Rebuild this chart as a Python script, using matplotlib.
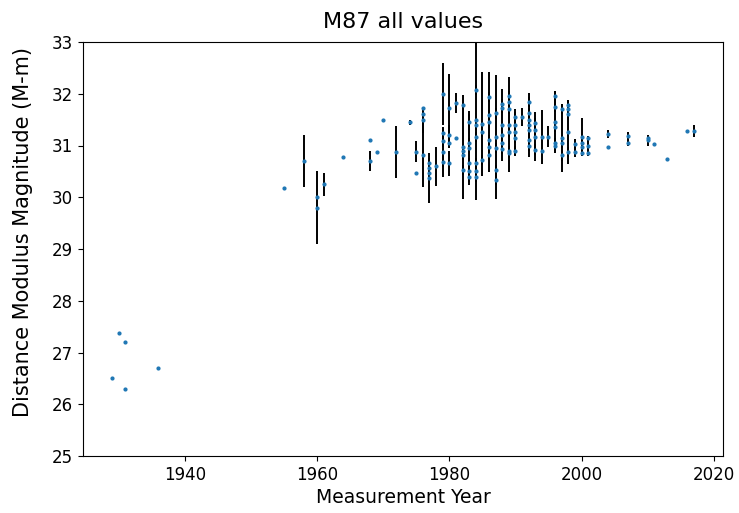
import matplotlib
matplotlib.use("Agg")
import matplotlib.pyplot as plt

plt.rcParams['font.size'] = 12

# Measurement year, distance modulus (M-m), and its uncertainty (0 = none)
years = [
    1929, 1930, 1931, 1931, 1936,
    1955, 1958, 1960, 1960, 1961, 1964, 1968, 1968, 1969, 1970, 1972,
    1974, 1975, 1975,
    1976, 1976, 1976, 1976,
    1977, 1977, 1977, 1977,
    1978,
    1979, 1979, 1979, 1979, 1979,
    1980, 1980, 1980, 1980,
    1981, 1981,
    1982, 1982, 1982, 1982, 1982,
    1983, 1983, 1983, 1983, 1983, 1983,
    1984, 1984, 1984, 1984, 1984, 1984, 1984,
    1985, 1985, 1985,
    1986, 1986, 1986, 1986, 1986, 1986,
    1987, 1987, 1987, 1987, 1987,
    1988, 1988, 1988, 1988, 1988, 1988,
    1989, 1989, 1989, 1989, 1989, 1989, 1989,
    1990, 1990, 1990, 1990, 1990,
    1991,
    1992, 1992, 1992, 1992, 1992, 1992, 1992,
    1993, 1993, 1993, 1993,
    1994, 1994,
    1995,
    1996, 1996, 1996, 1996, 1996, 1996,
    1997, 1997, 1997, 1997,
    1998, 1998, 1998, 1998, 1998,
    1999, 1999,
    2000, 2000, 2000, 2000,
    2001, 2001, 2001,
    2004, 2004,
    2007, 2007,
    2010, 2010,
    2011, 2013, 2016, 2017,
]
modulus = [
    26.5, 27.38, 27.2, 26.3, 26.7,
    30.18, 30.7, 30.0, 29.8, 30.25, 30.78, 31.1, 30.7, 30.88, 31.5, 30.88,
    31.45, 30.88, 30.47,
    30.82, 31.5, 31.72, 31.6,
    30.37, 30.66, 30.56, 30.47,
    30.6,
    32.0, 30.88, 31.24, 31.08, 30.69,
    31.72, 30.66, 31.2, 31.05,
    31.82, 31.14,
    30.97, 31.78, 30.9, 30.82, 30.53,
    30.95, 31.45, 31.04, 30.66, 30.5, 30.4,
    31.5, 32.07, 31.4, 31.17, 30.66, 30.5, 30.4,
    31.42, 31.27, 30.72,
    31.45, 31.94, 31.59, 31.1, 30.98, 30.82,
    31.16, 31.62, 30.95, 30.52, 30.33,
    31.4, 31.8, 31.72, 31.2, 31.04, 30.94,
    31.4, 31.95, 31.85, 31.7, 31.26, 30.9, 30.85,
    31.26, 31.55, 31.4, 31.14, 30.9,
    31.55,
    31.4, 31.84, 31.62, 31.5, 31.3, 31.1, 31.0,
    31.17, 31.43, 31.3, 30.92,
    31.16, 30.9,
    31.17,
    31.45, 31.95, 31.75, 31.36, 31.05, 31.0,
    31.15, 31.7, 31.05, 30.81,
    31.26, 31.78, 31.7, 31.6, 30.87,
    31.02, 30.88,
    31.17, 31.05, 30.98, 30.85,
    31.14, 31.0, 30.85,
    31.22, 30.98,
    31.18, 31.05,
    31.1, 31.15,
    31.03, 30.74, 31.28, 31.28,
]
uncertainty = [
    0, 0, 0, 0, 0,
    0, 0.5, 0, 0.7, 0.22, 0, 0, 0.2, 0, 0, 0.5,
    0.05, 0.2, 0,
    0.63, 0.25, 0, 0,
    0.48, 0.1, 0.1, 0.1,
    0.38,
    0.6, 0.48, 0.1, 0.1, 0.1,
    0.67, 0.24, 0.2, 0.1,
    0.2, 0,
    1.0, 0, 0.1, 0.1, 0.1,
    0.72, 0.15, 0.1, 0.1, 0.1, 0.1,
    1.56, 0.1, 0.1, 0.1, 0.1, 0.1, 0.1,
    1.0, 0.1, 0.1,
    0.97, 0.1, 0.1, 0.1, 0.1, 0.1,
    1.2, 0.1, 0.1, 0.1, 0.1,
    0.7, 0.1, 0.1, 0.1, 0.1, 0.1,
    0.92, 0.1, 0.1, 0.1, 0.1, 0.1, 0.1,
    0.45, 0.1, 0.1, 0.1, 0.1,
    0.18,
    0.62, 0.1, 0.1, 0.1, 0.1, 0.1, 0.1,
    0.47, 0.1, 0.1, 0.1,
    0.52, 0,
    0.2,
    0.6, 0.1, 0.1, 0.1, 0.1, 0.1,
    0.66, 0.1, 0.1, 0.1,
    0.61, 0.1, 0.1, 0.1, 0.1,
    0.1, 0.1,
    0.36, 0.1, 0.1, 0.05,
    0.05, 0.1, 0.05,
    0.07, 0,
    0.08, 0.05,
    0.1, 0,
    0, 0, 0, 0.11,
]

fig = plt.figure(figsize=(7.39, 5.13), dpi=100)
ax = fig.add_axes([83 / 739, 57 / 513, 640 / 739, 414 / 513])

ax.errorbar(years, modulus, yerr=uncertainty, fmt='.', color='tab:blue',
            ecolor='black', elinewidth=1.4, markersize=4, capsize=0)

ax.set_ylim(25, 33)
ax.set_xticks([1940, 1960, 1980, 2000, 2020])
ax.tick_params(labelsize=12)
ax.set_title("M87 all values", fontsize=16, pad=10)
ax.set_xlabel("Measurement Year", fontsize=13.5, labelpad=3)
ax.set_ylabel("Distance Modulus Magnitude (M-m)", fontsize=15)
ax.yaxis.set_label_coords(-0.078, 0.541)

fig.savefig("out.png", dpi=100)
